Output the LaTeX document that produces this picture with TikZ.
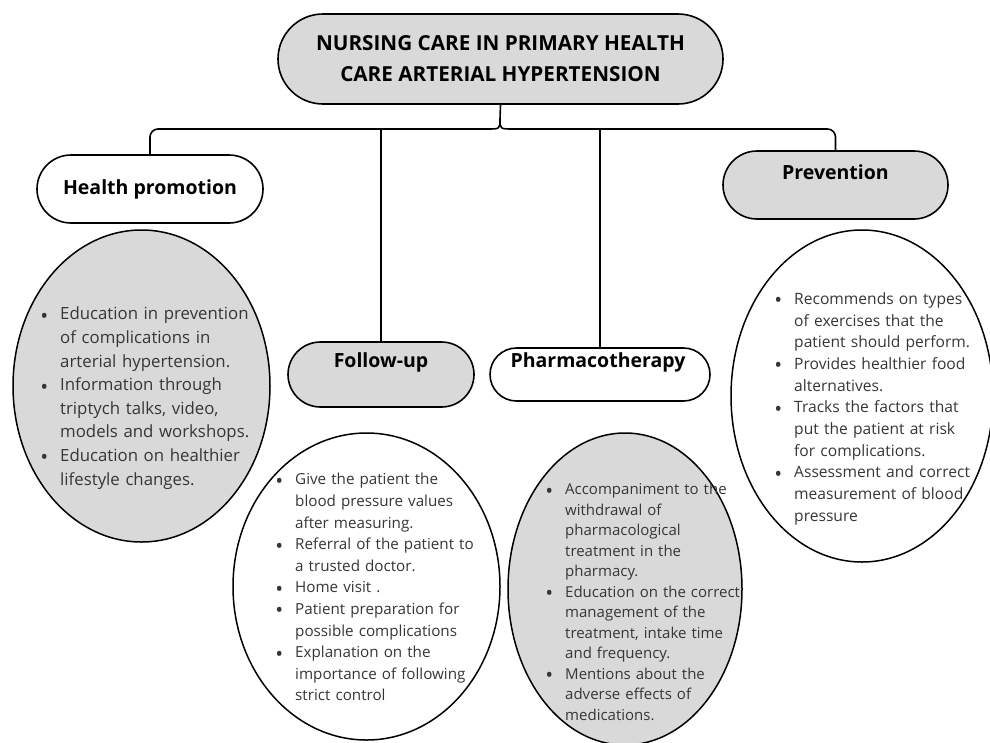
\documentclass[tikz,border=0pt]{standalone}
\usepackage{fontspec}
\setmainfont{Open Sans}
\usetikzlibrary{shapes.misc,shapes.geometric}

\definecolor{boxgrey}{HTML}{D9D9D9}
\definecolor{notegrey}{HTML}{363636}

\newcommand\dotmark{\smash{\raisebox{-3.4pt}{\fontsize{21}{21}\selectfont\textbullet}}}

\newenvironment{notelist}{%
    \begin{list}{\dotmark}{%
        \setlength\labelwidth{11pt}\setlength\labelsep{12pt}%
        \setlength\leftmargin{23pt}\setlength\itemsep{0pt}%
        \setlength\parsep{0pt}\setlength\topsep{0pt}\setlength\partopsep{0pt}}}%
    {\end{list}}

\begin{document}
\begin{tikzpicture}[
    x=1pt, y=-1pt,
    pill/.style={rounded rectangle, draw, line width=1.6pt, inner sep=0pt},
    bubble/.style={ellipse, draw, line width=1.5pt, inner sep=0pt},
    shaded/.style={fill=boxgrey},
    head/.style={font=\fontsize{19.5}{24}\selectfont\bfseries},
    notes/.style={anchor=north west, inner sep=0pt, text width=236pt, align=left, text=notegrey},
    link/.style={line width=1.6pt}
    ]
    \useasboundingbox (0,0) rectangle (990,742);

    \node[pill, shaded, minimum width=445, minimum height=90, align=center,
        font=\fontsize{20.7}{31}\selectfont\bfseries] (care) at (500.5,59)
        {NURSING CARE IN PRIMARY HEALTH\\CARE ARTERIAL HYPERTENSION};

    \node[pill, head, minimum width=226, minimum height=68] (promo) at (150,189) {Health promotion};
    \node[pill, shaded, minimum width=186, minimum height=65] (follow) at (381,374.5) {};
    \node[pill, minimum width=220, minimum height=53] (pharma) at (600,374.5) {};
    \node[pill, shaded, minimum width=225, minimum height=68] (prev) at (835.5,185) {};
    \node[head] (followT) at (381,362) {Follow-up};
    \node[head] (pharmaT) at (598,362) {Pharmacotherapy};
    \node[head] (prevT) at (835.5,172) {Prevention};

    \node[bubble, shaded, minimum width=257, minimum height=312] (promoE) at (141.5,386) {};
    \node[bubble, minimum width=267, minimum height=307] (followE) at (366.5,586.5) {};
    \node[bubble, shaded, minimum width=234, minimum height=312] (pharmaE) at (625,589) {};
    \node[bubble, minimum width=262, minimum height=332] (prevE) at (862,396) {};

    \node[notes, font=\fontsize{16.8}{23.6}\selectfont] (promoL) at (37,296) {\begin{notelist}
        \item Education in prevention\\of complications in\\arterial hypertension.
        \item Information through\\triptych talks, video,\\models and workshops.
        \item Education on healthier\\lifestyle changes.
    \end{notelist}};
    \node[notes, font=\fontsize{15.2}{21.6}\selectfont] (followL) at (272,463) {\begin{notelist}
        \item Give the patient the\\blood pressure values\\after measuring.
        \item Referral of the patient to\\a trusted doctor.
        \item Home visit .
        \item Patient preparation for\\possible complications
        \item Explanation on the\\importance of following\\strict control
    \end{notelist}};
    \node[notes, font=\fontsize{15}{20.5}\selectfont] (pharmaL) at (542,474) {\begin{notelist}
        \item Accompaniment to the\\withdrawal of\\pharmacological\\treatment in the\\pharmacy.
        \item Education on the correct\\management of the\\treatment, intake time\\and frequency.
        \item Mentions about the\\adverse effects of\\medications.
    \end{notelist}};
    \node[notes, font=\fontsize{15.6}{21.7}\selectfont] (prevL) at (771,282.4) {\begin{notelist}
        \item Recommends on types\\of exercises that the\\patient should perform.
        \item Provides healthier food\\alternatives.
        \item Tracks the factors that\\put the patient at risk\\for complications.
        \item Assessment and correct\\measurement of blood\\pressure
    \end{notelist}};

    \coordinate (bar) at (500,129);
    \draw[link] (care.south) -- ([yshift=10pt]bar);
    \draw[link] ([yshift=10pt]bar) .. controls (bar) .. ([xshift=-13pt]bar)
        [rounded corners=8pt] -| (promo.north);
    \draw[link] ([yshift=10pt]bar) .. controls (bar) .. ([xshift=13pt]bar)
        [rounded corners=8pt] -| (prev.north);
    \draw[link] (follow.north) -- (follow.north |- bar);
    \draw[link] (pharma.north) -- (pharma.north |- bar);
\end{tikzpicture}
\end{document}
